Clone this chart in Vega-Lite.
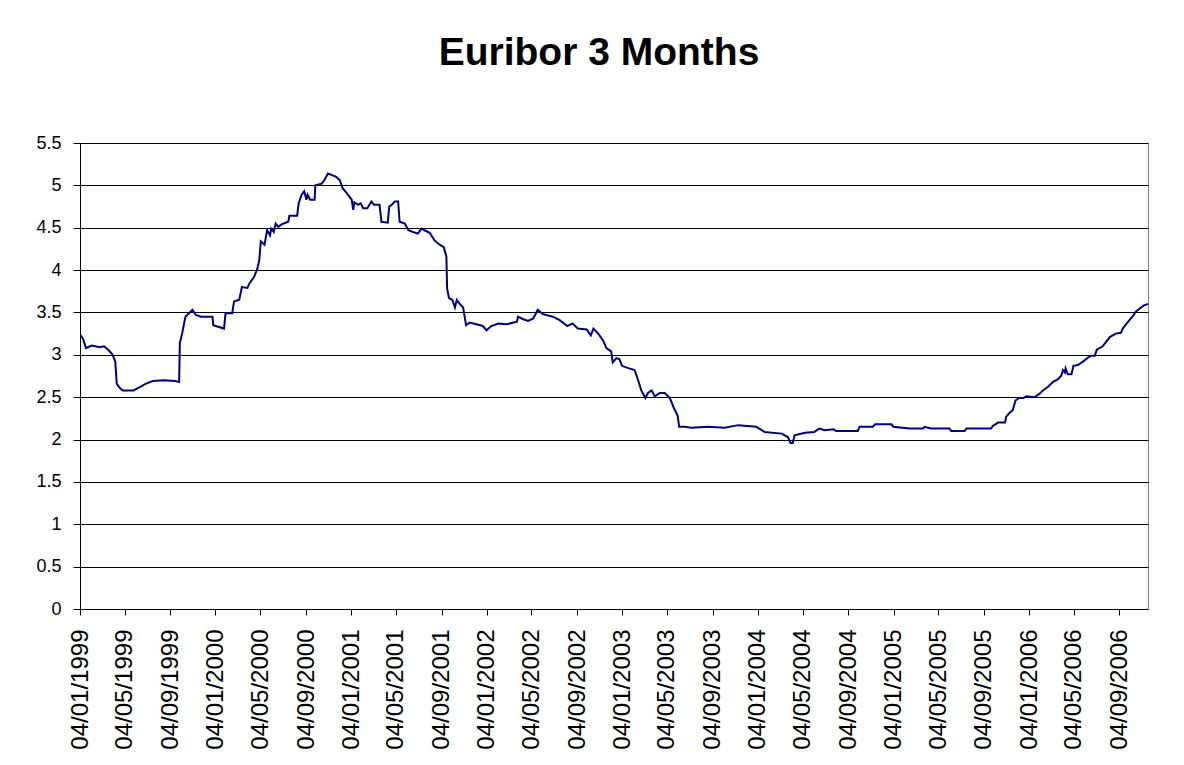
{
  "$schema": "https://vega.github.io/schema/vega-lite/v6.json",
  "width": 1068,
  "height": 466,
  "autosize": {"type": "none"},
  "padding": {"left": 80, "top": 143, "right": 36, "bottom": 156},
  "background": "white",
  "title": {"text": "Euribor 3 Months", "font": "Liberation Sans", "fontSize": 39, "fontWeight": "bold", "color": "black", "anchor": "middle", "frame": "group", "offset": 61, "dx": -15},
  "data": {
    "format": {"parse": {"d": "utc:'%Y-%m-%d'"}},
    "values": [
      {"d": "1999-01-04", "v": 3.24}, {"d": "1999-01-12", "v": 3.19}, {"d": "1999-01-20", "v": 3.08}, {"d": "1999-02-05", "v": 3.11},
      {"d": "1999-02-26", "v": 3.09}, {"d": "1999-03-10", "v": 3.10}, {"d": "1999-03-23", "v": 3.05}, {"d": "1999-04-02", "v": 3.00},
      {"d": "1999-04-09", "v": 2.92}, {"d": "1999-04-13", "v": 2.66}, {"d": "1999-04-19", "v": 2.62}, {"d": "1999-04-29", "v": 2.58},
      {"d": "1999-05-28", "v": 2.58}, {"d": "1999-06-14", "v": 2.62}, {"d": "1999-07-01", "v": 2.66}, {"d": "1999-07-19", "v": 2.69},
      {"d": "1999-08-18", "v": 2.70}, {"d": "1999-09-17", "v": 2.69}, {"d": "1999-09-28", "v": 2.68}, {"d": "1999-09-30", "v": 3.14},
      {"d": "1999-10-06", "v": 3.25}, {"d": "1999-10-15", "v": 3.45}, {"d": "1999-11-03", "v": 3.53}, {"d": "1999-11-12", "v": 3.47},
      {"d": "1999-11-26", "v": 3.45}, {"d": "1999-12-27", "v": 3.45}, {"d": "1999-12-29", "v": 3.35}, {"d": "2000-01-27", "v": 3.31},
      {"d": "2000-01-31", "v": 3.49}, {"d": "2000-02-18", "v": 3.49}, {"d": "2000-02-23", "v": 3.63}, {"d": "2000-03-08", "v": 3.65},
      {"d": "2000-03-15", "v": 3.80}, {"d": "2000-03-30", "v": 3.79}, {"d": "2000-04-04", "v": 3.84}, {"d": "2000-04-17", "v": 3.92},
      {"d": "2000-04-26", "v": 4.02}, {"d": "2000-05-01", "v": 4.12}, {"d": "2000-05-05", "v": 4.34}, {"d": "2000-05-15", "v": 4.30},
      {"d": "2000-05-22", "v": 4.47}, {"d": "2000-05-30", "v": 4.41}, {"d": "2000-06-02", "v": 4.49}, {"d": "2000-06-09", "v": 4.45},
      {"d": "2000-06-14", "v": 4.55}, {"d": "2000-06-21", "v": 4.51}, {"d": "2000-06-30", "v": 4.54}, {"d": "2000-07-18", "v": 4.57},
      {"d": "2000-07-21", "v": 4.64}, {"d": "2000-08-11", "v": 4.64}, {"d": "2000-08-15", "v": 4.79}, {"d": "2000-08-23", "v": 4.89},
      {"d": "2000-08-30", "v": 4.93}, {"d": "2000-09-05", "v": 4.83}, {"d": "2000-09-08", "v": 4.89}, {"d": "2000-09-15", "v": 4.83},
      {"d": "2000-09-27", "v": 4.83}, {"d": "2000-09-29", "v": 5.00}, {"d": "2000-10-16", "v": 5.02}, {"d": "2000-10-23", "v": 5.06},
      {"d": "2000-11-02", "v": 5.14}, {"d": "2000-11-13", "v": 5.12}, {"d": "2000-11-24", "v": 5.10}, {"d": "2000-12-04", "v": 5.06},
      {"d": "2000-12-11", "v": 4.97}, {"d": "2000-12-22", "v": 4.91}, {"d": "2001-01-05", "v": 4.83}, {"d": "2001-01-09", "v": 4.71},
      {"d": "2001-01-12", "v": 4.80}, {"d": "2001-01-22", "v": 4.77}, {"d": "2001-01-29", "v": 4.79}, {"d": "2001-02-05", "v": 4.73},
      {"d": "2001-02-16", "v": 4.73}, {"d": "2001-02-27", "v": 4.81}, {"d": "2001-03-06", "v": 4.77}, {"d": "2001-03-21", "v": 4.77},
      {"d": "2001-03-26", "v": 4.57}, {"d": "2001-04-12", "v": 4.56}, {"d": "2001-04-16", "v": 4.75}, {"d": "2001-04-23", "v": 4.77},
      {"d": "2001-05-01", "v": 4.81}, {"d": "2001-05-10", "v": 4.81}, {"d": "2001-05-14", "v": 4.57}, {"d": "2001-05-28", "v": 4.55},
      {"d": "2001-06-07", "v": 4.47}, {"d": "2001-06-19", "v": 4.45}, {"d": "2001-07-02", "v": 4.43}, {"d": "2001-07-12", "v": 4.49},
      {"d": "2001-07-20", "v": 4.47}, {"d": "2001-08-03", "v": 4.44}, {"d": "2001-08-16", "v": 4.35}, {"d": "2001-08-30", "v": 4.30},
      {"d": "2001-09-10", "v": 4.27}, {"d": "2001-09-17", "v": 4.16}, {"d": "2001-09-19", "v": 3.78}, {"d": "2001-09-24", "v": 3.67},
      {"d": "2001-10-03", "v": 3.65}, {"d": "2001-10-10", "v": 3.56}, {"d": "2001-10-15", "v": 3.65}, {"d": "2001-10-25", "v": 3.59},
      {"d": "2001-11-01", "v": 3.56}, {"d": "2001-11-09", "v": 3.35}, {"d": "2001-11-19", "v": 3.38}, {"d": "2001-12-07", "v": 3.36},
      {"d": "2001-12-24", "v": 3.34}, {"d": "2002-01-03", "v": 3.29}, {"d": "2002-01-16", "v": 3.34}, {"d": "2002-02-04", "v": 3.37},
      {"d": "2002-02-25", "v": 3.36}, {"d": "2002-03-26", "v": 3.39}, {"d": "2002-03-29", "v": 3.45}, {"d": "2002-04-12", "v": 3.42},
      {"d": "2002-04-25", "v": 3.40}, {"d": "2002-05-09", "v": 3.43}, {"d": "2002-05-21", "v": 3.53}, {"d": "2002-06-04", "v": 3.48},
      {"d": "2002-07-01", "v": 3.45}, {"d": "2002-07-19", "v": 3.41}, {"d": "2002-08-09", "v": 3.34}, {"d": "2002-08-23", "v": 3.37},
      {"d": "2002-09-06", "v": 3.31}, {"d": "2002-09-30", "v": 3.30}, {"d": "2002-10-11", "v": 3.23}, {"d": "2002-10-18", "v": 3.31},
      {"d": "2002-10-31", "v": 3.25}, {"d": "2002-11-13", "v": 3.17}, {"d": "2002-11-22", "v": 3.08}, {"d": "2002-12-05", "v": 3.04},
      {"d": "2002-12-09", "v": 2.91}, {"d": "2002-12-19", "v": 2.96}, {"d": "2002-12-27", "v": 2.95}, {"d": "2003-01-03", "v": 2.87},
      {"d": "2003-01-22", "v": 2.84}, {"d": "2003-02-06", "v": 2.82}, {"d": "2003-02-14", "v": 2.72}, {"d": "2003-02-24", "v": 2.58},
      {"d": "2003-03-07", "v": 2.49}, {"d": "2003-03-14", "v": 2.55}, {"d": "2003-03-24", "v": 2.58}, {"d": "2003-04-01", "v": 2.51},
      {"d": "2003-04-15", "v": 2.55}, {"d": "2003-04-28", "v": 2.55}, {"d": "2003-05-12", "v": 2.49}, {"d": "2003-05-23", "v": 2.37},
      {"d": "2003-06-02", "v": 2.28}, {"d": "2003-06-06", "v": 2.15}, {"d": "2003-06-20", "v": 2.15}, {"d": "2003-07-09", "v": 2.14},
      {"d": "2003-08-22", "v": 2.15}, {"d": "2003-10-07", "v": 2.14}, {"d": "2003-11-12", "v": 2.17}, {"d": "2003-12-31", "v": 2.15},
      {"d": "2004-01-22", "v": 2.09}, {"d": "2004-03-08", "v": 2.07}, {"d": "2004-03-25", "v": 2.03}, {"d": "2004-04-01", "v": 1.96},
      {"d": "2004-04-07", "v": 1.96}, {"d": "2004-04-12", "v": 2.05}, {"d": "2004-05-10", "v": 2.08}, {"d": "2004-06-04", "v": 2.09},
      {"d": "2004-06-18", "v": 2.13}, {"d": "2004-07-02", "v": 2.11}, {"d": "2004-07-26", "v": 2.12}, {"d": "2004-08-02", "v": 2.10},
      {"d": "2004-09-29", "v": 2.10}, {"d": "2004-10-04", "v": 2.15}, {"d": "2004-11-09", "v": 2.15}, {"d": "2004-11-15", "v": 2.18},
      {"d": "2004-12-29", "v": 2.18}, {"d": "2005-01-03", "v": 2.15}, {"d": "2005-02-16", "v": 2.13}, {"d": "2005-03-24", "v": 2.13},
      {"d": "2005-03-28", "v": 2.15}, {"d": "2005-04-15", "v": 2.13}, {"d": "2005-06-03", "v": 2.13}, {"d": "2005-06-08", "v": 2.10},
      {"d": "2005-07-14", "v": 2.10}, {"d": "2005-07-19", "v": 2.13}, {"d": "2005-09-23", "v": 2.13}, {"d": "2005-09-28", "v": 2.16},
      {"d": "2005-10-12", "v": 2.20}, {"d": "2005-10-31", "v": 2.20}, {"d": "2005-11-03", "v": 2.27}, {"d": "2005-11-11", "v": 2.31},
      {"d": "2005-11-21", "v": 2.35}, {"d": "2005-11-28", "v": 2.46}, {"d": "2005-12-07", "v": 2.49}, {"d": "2005-12-19", "v": 2.49},
      {"d": "2005-12-27", "v": 2.51}, {"d": "2006-01-18", "v": 2.50}, {"d": "2006-02-01", "v": 2.54}, {"d": "2006-02-10", "v": 2.58},
      {"d": "2006-02-23", "v": 2.62}, {"d": "2006-03-09", "v": 2.68}, {"d": "2006-03-22", "v": 2.71}, {"d": "2006-03-31", "v": 2.75},
      {"d": "2006-04-05", "v": 2.82}, {"d": "2006-04-10", "v": 2.79}, {"d": "2006-04-12", "v": 2.84}, {"d": "2006-04-18", "v": 2.77},
      {"d": "2006-04-28", "v": 2.77}, {"d": "2006-05-03", "v": 2.87}, {"d": "2006-05-15", "v": 2.88}, {"d": "2006-05-29", "v": 2.92},
      {"d": "2006-06-09", "v": 2.96}, {"d": "2006-06-20", "v": 2.99}, {"d": "2006-06-30", "v": 2.99}, {"d": "2006-07-05", "v": 3.06},
      {"d": "2006-07-21", "v": 3.10}, {"d": "2006-08-09", "v": 3.21}, {"d": "2006-08-25", "v": 3.25}, {"d": "2006-09-08", "v": 3.26},
      {"d": "2006-09-13", "v": 3.31}, {"d": "2006-09-27", "v": 3.39}, {"d": "2006-10-09", "v": 3.45}, {"d": "2006-10-18", "v": 3.51},
      {"d": "2006-10-27", "v": 3.54}, {"d": "2006-11-08", "v": 3.58}, {"d": "2006-11-20", "v": 3.60}
    ]
  },
  "mark": {"type": "line", "color": "#000080", "strokeWidth": 2, "interpolate": "linear", "clip": true},
  "encoding": {
    "x": {
      "field": "d", "type": "temporal",
      "scale": {"type": "utc", "nice": false, "domain": [{"year": 1999, "month": 1, "date": 4, "utc": true}, {"year": 2006, "month": 11, "date": 20, "utc": true}]},
      "axis": {
        "title": null, "grid": false, "format": "%d/%m/%Y", "labelAngle": -90, "labelOverlap": false, "labelFlush": false, "labelBound": false,
        "labelFont": "Liberation Sans", "labelFontSize": 24, "labelColor": "black", "labelPadding": 14,
        "domainColor": "black", "domainWidth": 1, "tickColor": "black", "tickSize": 6, "tickWidth": 1,
        "values": [
          {"year": 1999, "month": 1, "date": 4, "utc": true}, {"year": 1999, "month": 5, "date": 4, "utc": true}, {"year": 1999, "month": 9, "date": 4, "utc": true},
          {"year": 2000, "month": 1, "date": 4, "utc": true}, {"year": 2000, "month": 5, "date": 4, "utc": true}, {"year": 2000, "month": 9, "date": 4, "utc": true},
          {"year": 2001, "month": 1, "date": 4, "utc": true}, {"year": 2001, "month": 5, "date": 4, "utc": true}, {"year": 2001, "month": 9, "date": 4, "utc": true},
          {"year": 2002, "month": 1, "date": 4, "utc": true}, {"year": 2002, "month": 5, "date": 4, "utc": true}, {"year": 2002, "month": 9, "date": 4, "utc": true},
          {"year": 2003, "month": 1, "date": 4, "utc": true}, {"year": 2003, "month": 5, "date": 4, "utc": true}, {"year": 2003, "month": 9, "date": 4, "utc": true},
          {"year": 2004, "month": 1, "date": 4, "utc": true}, {"year": 2004, "month": 5, "date": 4, "utc": true}, {"year": 2004, "month": 9, "date": 4, "utc": true},
          {"year": 2005, "month": 1, "date": 4, "utc": true}, {"year": 2005, "month": 5, "date": 4, "utc": true}, {"year": 2005, "month": 9, "date": 4, "utc": true},
          {"year": 2006, "month": 1, "date": 4, "utc": true}, {"year": 2006, "month": 5, "date": 4, "utc": true}, {"year": 2006, "month": 9, "date": 4, "utc": true}
        ]
      }
    },
    "y": {
      "field": "v", "type": "quantitative",
      "scale": {"domain": [0, 5.5], "nice": false},
      "axis": {
        "title": null, "values": [0, 0.5, 1, 1.5, 2, 2.5, 3, 3.5, 4, 4.5, 5, 5.5], "format": "~g",
        "grid": true, "gridColor": "black", "gridOpacity": 1, "gridWidth": 1,
        "labelFont": "Liberation Sans", "labelFontSize": 18, "labelColor": "black", "labelPadding": 12,
        "domainColor": "black", "domainWidth": 1, "tickColor": "black", "tickSize": 7, "tickWidth": 1
      }
    }
  },
  "config": {"view": {"stroke": "#808080", "strokeWidth": 1}}
}
